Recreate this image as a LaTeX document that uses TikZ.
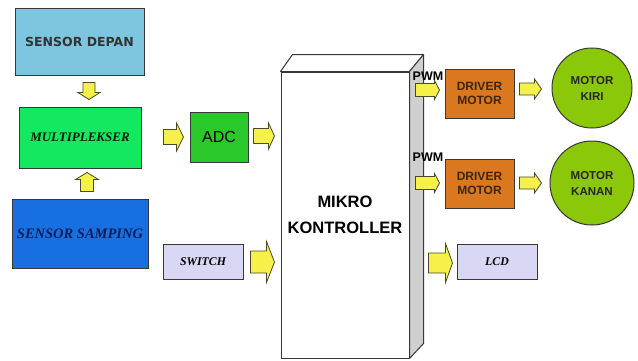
\documentclass[tikz,border=0pt]{standalone}
\usepackage{fontspec}
\usetikzlibrary{calc}
\newfontfamily\arialf{Liberation Sans}
\newfontfamily\timesf{Liberation Serif}
\newfontfamily\dejavuf{DejaVu Sans}
\definecolor{cdepan}{HTML}{7EC6E0}
\definecolor{cmux}{HTML}{14E860}
\definecolor{csamp}{HTML}{1870E0}
\definecolor{cadc}{HTML}{2AC82A}
\definecolor{clav}{HTML}{D8D8F4}
\definecolor{cdrv}{HTML}{D9781E}
\definecolor{cmot}{HTML}{8BC80A}
\definecolor{carrf}{HTML}{F5F04A}
\definecolor{carrd}{HTML}{4A4A28}
\definecolor{cline}{HTML}{383838}
\definecolor{cside}{HTML}{CFCFCF}
\definecolor{cnavy}{HTML}{0B1E5A}
\definecolor{cdrvtxt}{HTML}{3B2612}
\newcommand\harrow[5]{\draw[fatarrow] let \p1=(#1), \p2=(#2), \n1={\x2-(#5)} in ({\x1},{\y1+#3}) -- ({\n1},{\y1+#3}) -- ({\n1},{\y1+#4}) -- ({\x2},{\y1}) -- ({\n1},{\y1-#4}) -- ({\n1},{\y1-#3}) -- ({\x1},{\y1-#3}) -- cycle;}
\newcommand\varrow[5]{\draw[fatarrow] let \p1=(#1), \p2=(#2), \n1={\y2-(#5)} in ({\x1+#3},{\y1}) -- ({\x1+#3},{\n1}) -- ({\x1+#4},{\n1}) -- ({\x1},{\y2}) -- ({\x1-#4},{\n1}) -- ({\x1-#3},{\n1}) -- ({\x1-#3},{\y1}) -- cycle;}
\begin{document}
\begin{tikzpicture}[x=1pt,y=-1pt,
  box/.style={draw=cline, line width=1pt, rectangle, inner sep=0pt},
  fatarrow/.style={draw=carrd, fill=carrf, line width=0.8pt, line join=miter},
  mot/.style={draw=cline, line width=1pt, circle, fill=cmot, inner sep=0pt, align=center, text=black!85,
    font=\arialf\bfseries\fontsize{11.5}{16}\selectfont},
  drv/.style={box, fill=cdrv, minimum width=69, minimum height=49, align=center, text=cdrvtxt,
    font=\arialf\bfseries\fontsize{12}{14}\selectfont},
  lav/.style={box, fill=clav, minimum width=80, minimum height=35, text=black,
    font=\timesf\bfseries\itshape\fontsize{11.8}{14}\selectfont},
  pwm/.style={inner sep=0pt, font=\arialf\bfseries\fontsize{12.5}{13}\selectfont}
]
\useasboundingbox (0,0) rectangle (638,360);
\fill[white] (0,0) rectangle (638,360);

% left column
\node[box, fill=cdepan, minimum width=129, minimum height=67, text=black!80,
  font=\dejavuf\bfseries\fontsize{12.5}{15}\selectfont] (depan) at (79.5,41.5) {SENSOR DEPAN};
\node[box, fill=cmux, minimum width=122, minimum height=61, text=black!90!green,
  font=\timesf\bfseries\itshape\fontsize{13}{15}\selectfont] (mux) at (80,137.5) {MULTIPLEKSER};
\node[box, fill=csamp, minimum width=136, minimum height=69, text=cnavy,
  font=\timesf\bfseries\itshape\fontsize{14.5}{17}\selectfont] (samp) at (80,233.5) {SENSOR SAMPING};

% middle
\node[box, fill=cadc, minimum width=58, minimum height=50, text=black,
  font=\arialf\fontsize{16}{18}\selectfont] (adc) at (219,137) {ADC};
\node[lav] (sw) at (203,261.5) {SWITCH};

% microcontroller 3D box
\node[box, fill=white, minimum width=128, minimum height=286, align=center, text=black,
  font=\arialf\bfseries\fontsize{16.5}{26}\selectfont] (mk) at (345,215) {MIKRO\\KONTROLLER};
\draw[cline, line width=1pt, fill=white, line join=round] (mk.north west) -- ($(mk.north west)+(12,-17)$) -- ($(mk.north east)+(14,-17)$) -- (mk.north east) -- cycle;
\draw[cline, line width=1pt, fill=cside, line join=round] (mk.north east) -- ($(mk.north east)+(14,-17)$) -- ($(mk.south east)+(14,-15)$) -- (mk.south east) -- cycle;

% right column
\node[drv] (drv1) at (479.5,93.5) {DRIVER\\MOTOR};
\node[drv] (drv2) at (479.5,183.5) {DRIVER\\MOTOR};
\node[mot, minimum size=80] (kiri) at (592,88) {MOTOR\\KIRI};
\node[mot, minimum size=84] (kanan) at (592,183) {MOTOR\\KANAN};
\node[lav] (lcd) at (497,261.5) {LCD};

\node[pwm] (pwm1) at (428,76) {PWM};
\node[pwm] (pwm2) at (428,157) {PWM};

% connector end points
\coordinate (i1) at ($(depan.south)+(9.5,7)$);
\coordinate (i2) at ($(mux.north)+(9,-7)$);
\coordinate (j1) at ($(samp.north)+(7,-7)$);
\coordinate (j2) at ($(mux.south)+(7,4)$);
\coordinate (a1) at ($(mux.east)+(22,-0.5)$);
\coordinate (a2) at ($(adc.west)+(-6,0)$);
\coordinate (b1) at ($(adc.east)+(5,-1)$);
\coordinate (b2) at ($(mk.west)+(-6,-79)$);
\coordinate (c1) at ($(sw.east)+(7,0.5)$);
\coordinate (c2) at ($(mk.west)+(-6,47)$);
\coordinate (d1) at ($(mk.east)+(6,-125)$);
\coordinate (d2) at ($(drv1.west)+(-5,-3.5)$);
\coordinate (e1) at ($(mk.east)+(6,-32)$);
\coordinate (e2) at ($(drv2.west)+(-5,-0.5)$);
\coordinate (f1) at ($(drv1.east)+(5,-4.5)$);
\coordinate (f2) at ($(kiri.west)+(-10,1)$);
\coordinate (g1) at ($(drv2.east)+(5,-0.5)$);
\coordinate (g2) at ($(kanan.west)+(-8,0)$);
\coordinate (h1) at ($(mk.east)+(19,48)$);
\coordinate (h2) at ($(lcd.west)+(-4,1.5)$);

% block arrows
\varrow{i1}{i2}{6pt}{11pt}{-7pt}
\varrow{j1}{j2}{6.5pt}{11.5pt}{7pt}
\harrow{a1}{a2}{7.5pt}{14pt}{7pt}
\harrow{b1}{b2}{7.5pt}{13pt}{6pt}
\harrow{c1}{c2}{11pt}{20.5pt}{8pt}
\harrow{d1}{d2}{6.5pt}{9.5pt}{5pt}
\harrow{e1}{e2}{6.5pt}{9.5pt}{5pt}
\harrow{f1}{f2}{6pt}{10pt}{7pt}
\harrow{g1}{g2}{6pt}{10pt}{7pt}
\harrow{h1}{h2}{10pt}{19.5pt}{7pt}
\end{tikzpicture}
\end{document}
